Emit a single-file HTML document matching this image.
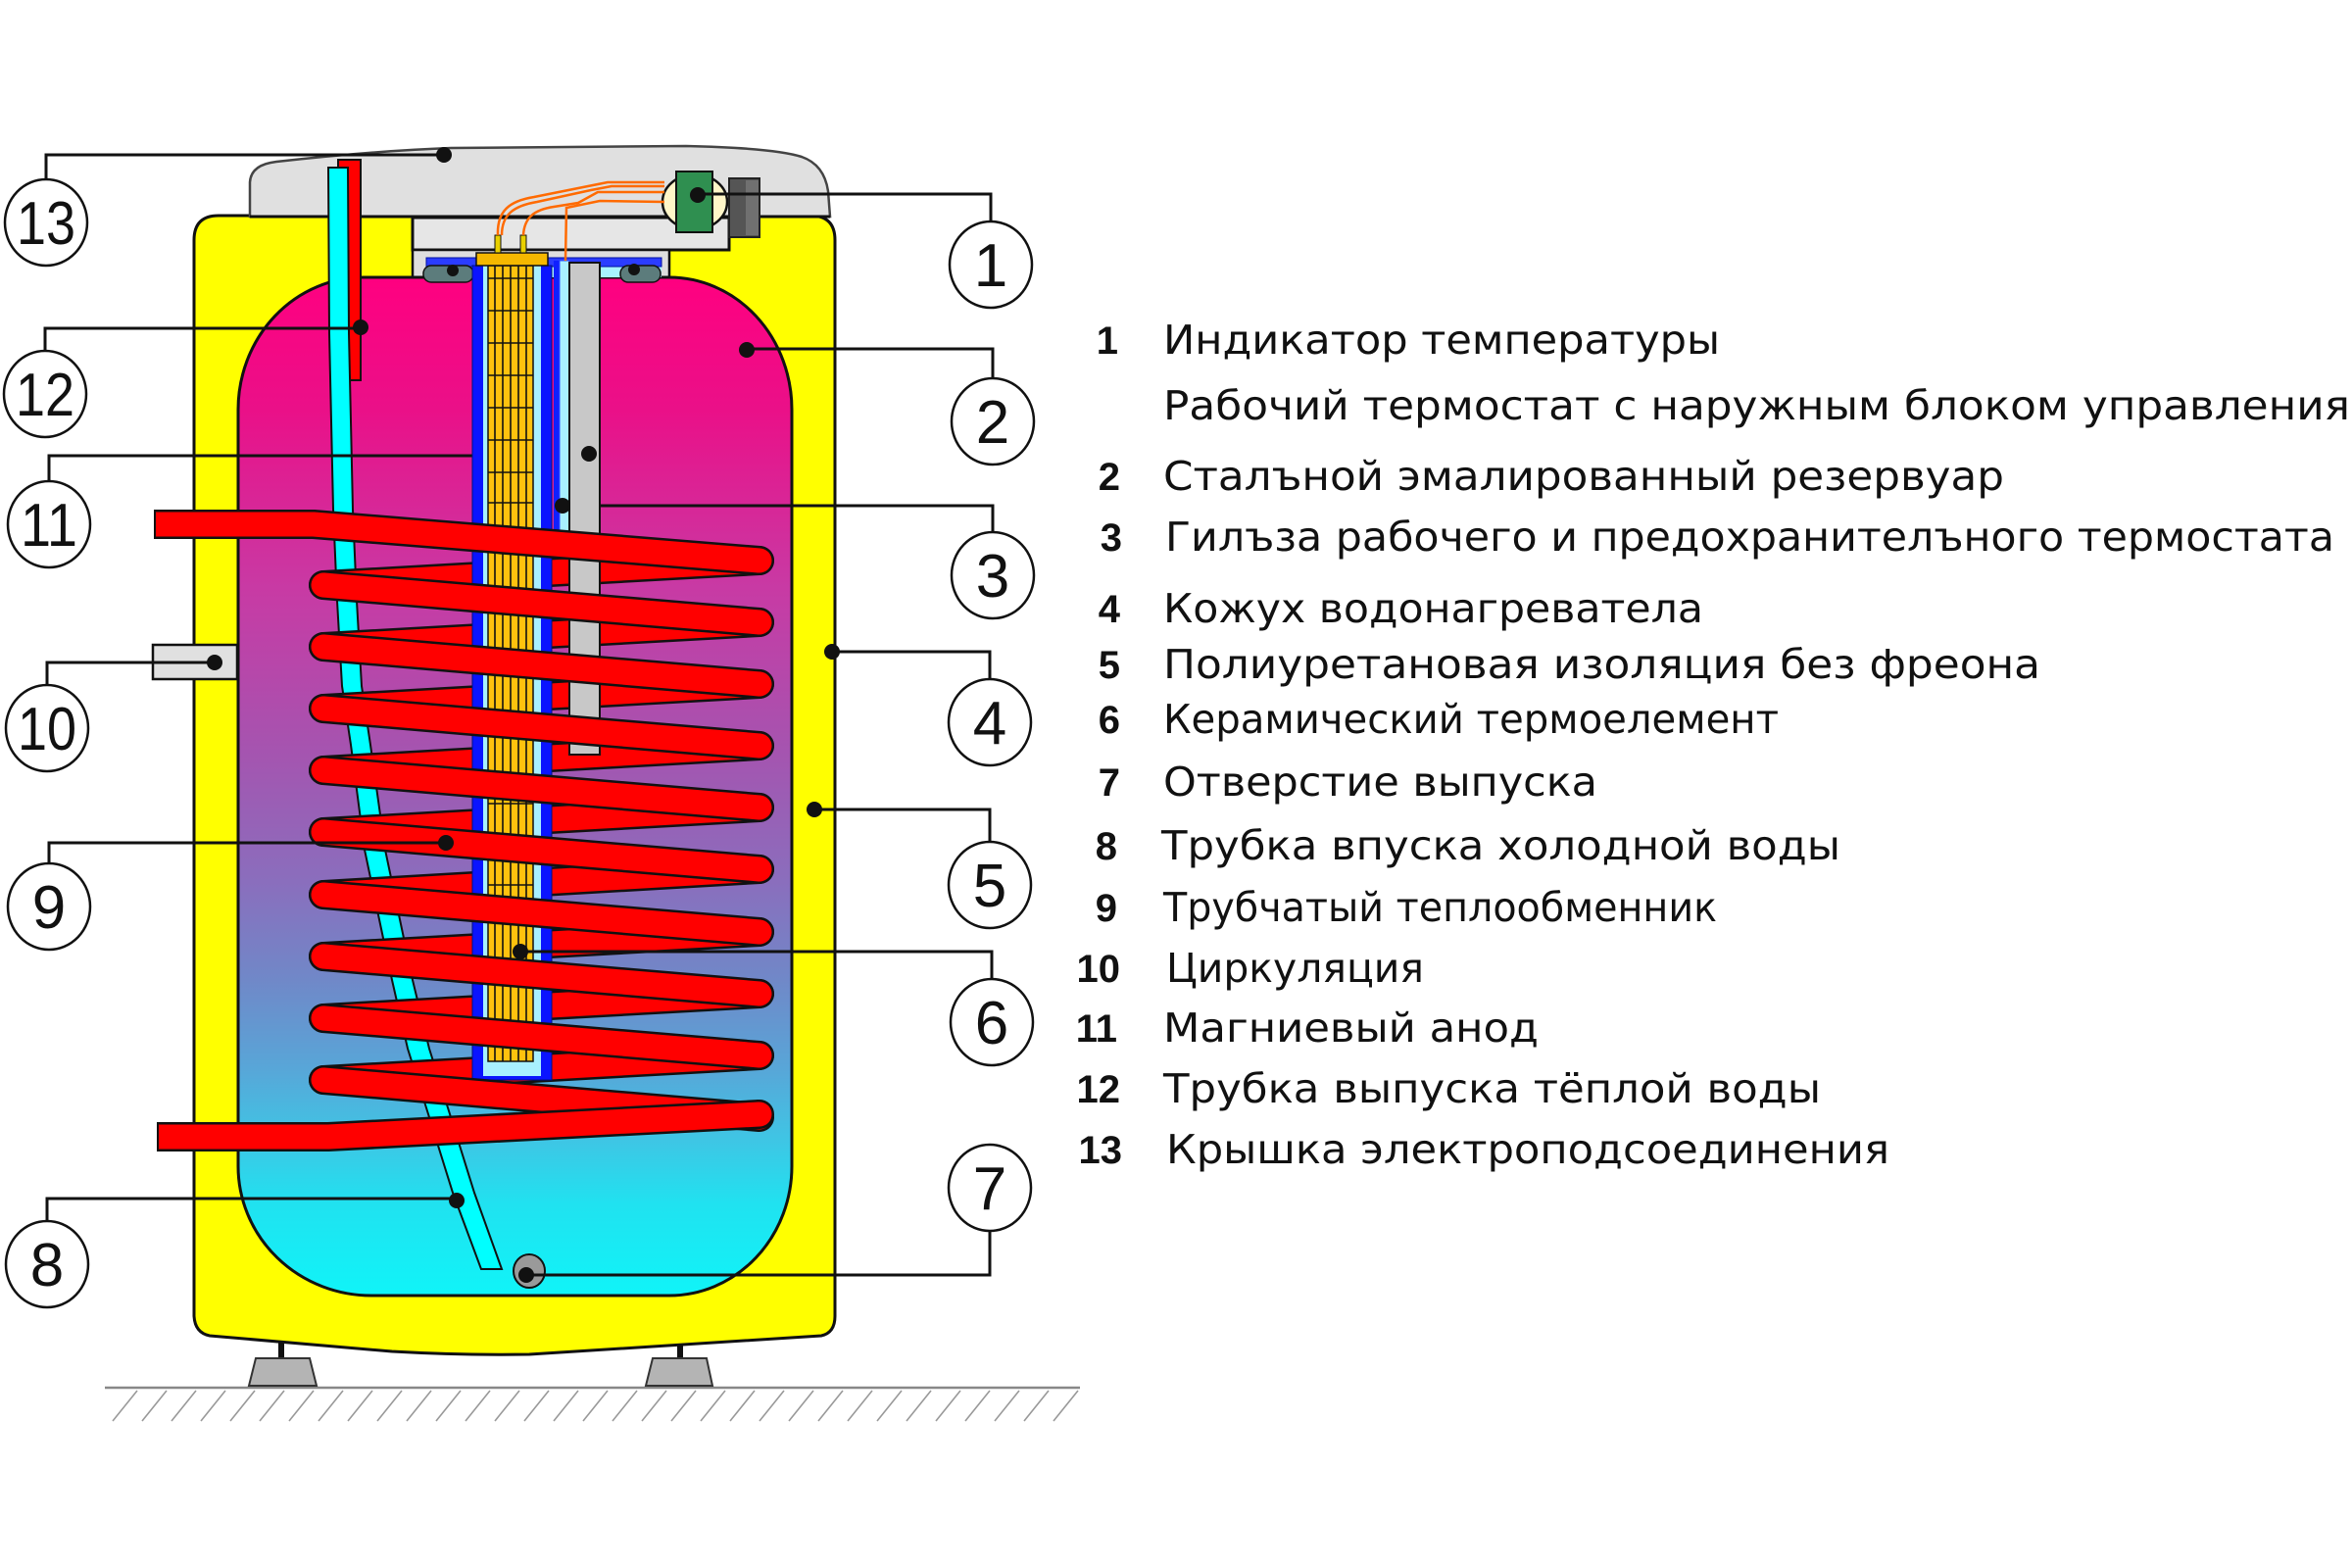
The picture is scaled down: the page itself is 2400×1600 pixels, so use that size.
<!DOCTYPE html>
<html>
<head>
<meta charset="utf-8">
<style>
  html,body{margin:0;padding:0;background:#fff;}
  body{width:2400px;height:1600px;overflow:hidden;}
  svg{display:block;}
  .lbl{font-family:"DejaVu Sans","Liberation Sans",sans-serif;font-size:41px;fill:#111;}
  .num{font-family:"Liberation Sans",Arial,sans-serif;font-weight:bold;font-size:40px;fill:#111;}
  .cn{font-family:"Liberation Sans",Arial,sans-serif;font-size:62px;fill:#111;}
</style>
</head>
<body>
<svg width="2400" height="1600" viewBox="0 0 2400 1600" xmlns="http://www.w3.org/2000/svg">
  <defs>
    <linearGradient id="water" gradientUnits="userSpaceOnUse" x1="0" y1="283" x2="0" y2="1322">
      <stop offset="0" stop-color="#ff0080"/>
      <stop offset="0.13" stop-color="#ea1088"/>
      <stop offset="0.305" stop-color="#c83aa4"/>
      <stop offset="0.47" stop-color="#a455b0"/>
      <stop offset="0.594" stop-color="#8a6ebd"/>
      <stop offset="0.69" stop-color="#7088c8"/>
      <stop offset="0.777" stop-color="#58a6d8"/>
      <stop offset="0.844" stop-color="#40c4e4"/>
      <stop offset="0.911" stop-color="#20e2f0"/>
      <stop offset="1" stop-color="#10f4f8"/>
    </linearGradient>
  </defs>

  <rect x="0" y="0" width="2400" height="1600" fill="#fff"/>

  <!-- ground -->
  <line x1="107" y1="1416" x2="1102" y2="1416" stroke="#888" stroke-width="2.5"/>
  <g stroke="#999" stroke-width="1.6">
    <line x1="140" y1="1419" x2="115" y2="1450"/>
    <line x1="170" y1="1419" x2="145" y2="1450"/>
    <line x1="200" y1="1419" x2="175" y2="1450"/>
    <line x1="230" y1="1419" x2="205" y2="1450"/>
    <line x1="260" y1="1419" x2="235" y2="1450"/>
    <line x1="290" y1="1419" x2="265" y2="1450"/>
    <line x1="320" y1="1419" x2="295" y2="1450"/>
    <line x1="350" y1="1419" x2="325" y2="1450"/>
    <line x1="380" y1="1419" x2="355" y2="1450"/>
    <line x1="410" y1="1419" x2="385" y2="1450"/>
    <line x1="440" y1="1419" x2="415" y2="1450"/>
    <line x1="470" y1="1419" x2="445" y2="1450"/>
    <line x1="500" y1="1419" x2="475" y2="1450"/>
    <line x1="530" y1="1419" x2="505" y2="1450"/>
    <line x1="560" y1="1419" x2="535" y2="1450"/>
    <line x1="590" y1="1419" x2="565" y2="1450"/>
    <line x1="620" y1="1419" x2="595" y2="1450"/>
    <line x1="650" y1="1419" x2="625" y2="1450"/>
    <line x1="680" y1="1419" x2="655" y2="1450"/>
    <line x1="710" y1="1419" x2="685" y2="1450"/>
    <line x1="740" y1="1419" x2="715" y2="1450"/>
    <line x1="770" y1="1419" x2="745" y2="1450"/>
    <line x1="800" y1="1419" x2="775" y2="1450"/>
    <line x1="830" y1="1419" x2="805" y2="1450"/>
    <line x1="860" y1="1419" x2="835" y2="1450"/>
    <line x1="890" y1="1419" x2="865" y2="1450"/>
    <line x1="920" y1="1419" x2="895" y2="1450"/>
    <line x1="950" y1="1419" x2="925" y2="1450"/>
    <line x1="980" y1="1419" x2="955" y2="1450"/>
    <line x1="1010" y1="1419" x2="985" y2="1450"/>
    <line x1="1040" y1="1419" x2="1015" y2="1450"/>
    <line x1="1070" y1="1419" x2="1045" y2="1450"/>
    <line x1="1100" y1="1419" x2="1075" y2="1450"/>
  </g>

  <!-- feet -->
  <rect x="284" y="1358" width="6" height="30" fill="#111"/>
  <rect x="691" y="1362" width="6" height="26" fill="#111"/>
  <polygon points="261,1386 316,1386 323,1414 254,1414" fill="#b4b4b4" stroke="#333" stroke-width="2"/>
  <polygon points="666,1386 721,1386 727,1414 659,1414" fill="#b4b4b4" stroke="#333" stroke-width="2"/>

  <!-- yellow body -->
  <path d="M198,245 Q198,220 223,220 L827,220 Q852,220 852,245 L852,1343 Q852,1360 838,1363 L540,1382 Q470,1383 400,1379 L214,1363 Q199,1360 198,1343 Z" fill="#ffff00" stroke="#111" stroke-width="3"/>

  <!-- grey cover -->
  <path d="M255,221 L255,186 Q256,168 282,165 Q380,154 460,151 L700,149 Q790,151 818,160 Q841,168 845,195 L847,221 Z" fill="#e0e0e0" stroke="#444" stroke-width="2.5"/>
  <line x1="255" y1="221" x2="847" y2="221" stroke="#111" stroke-width="3"/>

  <!-- inner box and flange area -->
  <rect x="421" y="222" width="323" height="33" fill="#e6e6e6" stroke="#111" stroke-width="3"/>
  <rect x="421" y="255" width="262" height="28" fill="#dedede" stroke="#111" stroke-width="2.5"/>

  <!-- thermostat -->
  <ellipse cx="709" cy="206" rx="33" ry="28" fill="#fff6c8" stroke="#111" stroke-width="2.5"/>
  <rect x="690" y="175" width="37" height="62" fill="#2f8f50" stroke="#111" stroke-width="2"/>
  <rect x="744" y="182" width="31" height="60" fill="#555" stroke="#222" stroke-width="2"/>
  <rect x="761" y="184" width="13" height="56" fill="#707070"/>

  <!-- tank -->
  <path d="M243,418 A128,135 0 0 1 371,283 L683,283 A125,135 0 0 1 808,418 L808,1190 A125,132 0 0 1 683,1322 L379,1322 A136,132 0 0 1 243,1190 Z" fill="url(#water)" stroke="#111" stroke-width="3"/>

  <!-- flange plate -->
  <rect x="435" y="272" width="240" height="11" fill="#a8f2ff"/>
  <rect x="435" y="263" width="240" height="9" fill="#2b3cff" stroke="#0010a0" stroke-width="1"/>
  <rect x="432" y="271" width="51" height="17" rx="8" fill="#5c7c7c" stroke="#111" stroke-width="1.5"/>
  <rect x="633" y="271" width="41" height="17" rx="8" fill="#5c7c7c" stroke="#111" stroke-width="1.5"/>
  <circle cx="462" cy="276" r="6" fill="#111"/>
  <circle cx="647" cy="275" r="6" fill="#111"/>

  <!-- hot water outlet pipe (12) -->
  <rect x="345" y="163" width="23" height="225" fill="#ff0000" stroke="#111" stroke-width="2"/>
  <!-- cold water inlet pipe (8) -->
  <polygon points="335,171 336,340 340,520 344,613 349,700 358,760 372,867 400,1000 416,1070 438,1140 462,1217 491,1295 512,1295 484,1217 460,1140 438,1070 421,1000 393,867 378,760 369,700 364,613 360,520 356,340 355,171" fill="#00ffff" stroke="#111" stroke-width="2"/>

  <!-- circulation fitting (10) -->
  <rect x="156" y="658" width="86" height="35" fill="#e0e0e0" stroke="#111" stroke-width="2.5"/>

  <!-- back coil segments -->
  <g fill="none" stroke-linecap="round">
    <g stroke="#111" stroke-width="30">
      <line x1="775" y1="572" x2="330" y2="597"/>
      <line x1="775" y1="635" x2="330" y2="660"/>
      <line x1="775" y1="698" x2="330" y2="723"/>
      <line x1="775" y1="761" x2="330" y2="786"/>
      <line x1="775" y1="824" x2="330" y2="849"/>
      <line x1="775" y1="887" x2="330" y2="913"/>
      <line x1="775" y1="951" x2="330" y2="976"/>
      <line x1="775" y1="1014" x2="330" y2="1039"/>
      <line x1="775" y1="1077" x2="330" y2="1102"/>
    </g>
    <g stroke="#ff0000" stroke-width="25">
      <line x1="775" y1="572" x2="330" y2="597"/>
      <line x1="775" y1="635" x2="330" y2="660"/>
      <line x1="775" y1="698" x2="330" y2="723"/>
      <line x1="775" y1="761" x2="330" y2="786"/>
      <line x1="775" y1="824" x2="330" y2="849"/>
      <line x1="775" y1="887" x2="330" y2="913"/>
      <line x1="775" y1="951" x2="330" y2="976"/>
      <line x1="775" y1="1014" x2="330" y2="1039"/>
      <line x1="775" y1="1077" x2="330" y2="1102"/>
    </g>
  </g>

  <!-- leader 11 line (behind element) -->
  <path d="M482,465 H50 V491" fill="none" stroke="#111" stroke-width="3"/>

  <!-- heating element (6) -->
  <rect x="482" y="271" width="81" height="831" fill="#0a14ff" stroke="#001080" stroke-width="1"/>
  <rect x="493" y="271" width="59" height="827" fill="#a8f0ff"/>
  <rect x="498" y="271" width="46" height="812" fill="#ffc20e" stroke="#111" stroke-width="1.5"/>
  <g stroke="#111" stroke-width="1.6">
    <line x1="505" y1="271" x2="505" y2="1083"/>
    <line x1="513" y1="271" x2="513" y2="1083"/>
    <line x1="521" y1="271" x2="521" y2="1083"/>
    <line x1="529" y1="271" x2="529" y2="1083"/>
    <line x1="537" y1="271" x2="537" y2="1083"/>
    <line x1="498" y1="284" x2="544" y2="284"/>
    <line x1="498" y1="317" x2="544" y2="317"/>
    <line x1="498" y1="350" x2="544" y2="350"/>
    <line x1="498" y1="383" x2="544" y2="383"/>
    <line x1="498" y1="416" x2="544" y2="416"/>
    <line x1="498" y1="449" x2="544" y2="449"/>
    <line x1="498" y1="482" x2="544" y2="482"/>
    <line x1="498" y1="513" x2="544" y2="513"/>
    <line x1="498" y1="820" x2="544" y2="820"/>
    <line x1="498" y1="903" x2="544" y2="903"/>
  </g>
  <!-- thermostat sheath (3) -->
  <rect x="565" y="266" width="6" height="279" fill="#1020ff"/>
  <rect x="571" y="266" width="10" height="279" fill="#a8f0ff" stroke="#3050ff" stroke-width="1"/>
  <!-- magnesium anode (11) -->
  <rect x="581" y="268" width="31" height="502" fill="#c8c8c8" stroke="#111" stroke-width="2"/>
  <!-- element head -->
  <rect x="486" y="258" width="73" height="13" fill="#f5b800" stroke="#111" stroke-width="1.5"/>
  <rect x="505" y="240" width="6" height="18" fill="#e8d000" stroke="#111" stroke-width="1"/>
  <rect x="531" y="240" width="6" height="18" fill="#e8d000" stroke="#111" stroke-width="1"/>

  <!-- wires -->
  <g fill="none" stroke="#ff6a00" stroke-width="2.5">
    <path d="M508,240 C507,215 520,205 545,201 L600,190 L620,186 L678,186"/>
    <path d="M512,240 C512,219 524,210 548,206 L603,194 L624,190 L678,190"/>
    <path d="M534,240 C535,222 545,214 565,211 L590,207 L610,196 L678,196"/>
    <path d="M577,266 L578,212 L612,205 L678,206"/>
  </g>

  <!-- front coil tubes -->
  <g fill="none" stroke-linejoin="round">
    <!-- inlet -->
    <path d="M157,535 L320,535 L775,572" stroke="#111" stroke-width="30"/>
    <circle cx="775" cy="572" r="15" fill="#111"/>
    <path d="M159,535 L320,535 L775,572" stroke="#ff0000" stroke-width="25"/>
    <circle cx="775" cy="572" r="12.5" fill="#ff0000"/>
  </g>
  <g fill="none" stroke-linecap="round">
    <line x1="330" y1="597" x2="775" y2="635" stroke="#111" stroke-width="30"/>
    <line x1="330" y1="597" x2="775" y2="635" stroke="#ff0000" stroke-width="25"/>
    <line x1="330" y1="660" x2="775" y2="698" stroke="#111" stroke-width="30"/>
    <line x1="330" y1="660" x2="775" y2="698" stroke="#ff0000" stroke-width="25"/>
    <line x1="330" y1="723" x2="775" y2="761" stroke="#111" stroke-width="30"/>
    <line x1="330" y1="723" x2="775" y2="761" stroke="#ff0000" stroke-width="25"/>
    <line x1="330" y1="786" x2="775" y2="824" stroke="#111" stroke-width="30"/>
    <line x1="330" y1="786" x2="775" y2="824" stroke="#ff0000" stroke-width="25"/>
    <line x1="330" y1="849" x2="775" y2="887" stroke="#111" stroke-width="30"/>
    <line x1="330" y1="849" x2="775" y2="887" stroke="#ff0000" stroke-width="25"/>
    <line x1="330" y1="913" x2="775" y2="951" stroke="#111" stroke-width="30"/>
    <line x1="330" y1="913" x2="775" y2="951" stroke="#ff0000" stroke-width="25"/>
    <line x1="330" y1="976" x2="775" y2="1014" stroke="#111" stroke-width="30"/>
    <line x1="330" y1="976" x2="775" y2="1014" stroke="#ff0000" stroke-width="25"/>
    <line x1="330" y1="1039" x2="775" y2="1077" stroke="#111" stroke-width="30"/>
    <line x1="330" y1="1039" x2="775" y2="1077" stroke="#ff0000" stroke-width="25"/>
    <line x1="330" y1="1102" x2="775" y2="1140" stroke="#111" stroke-width="30"/>
    <line x1="330" y1="1102" x2="775" y2="1140" stroke="#ff0000" stroke-width="25"/>
  </g>
  <g fill="none" stroke-linejoin="round">
    <!-- outlet -->
    <path d="M775,1137 L335,1160 L160,1160" stroke="#111" stroke-width="30"/>
    <circle cx="775" cy="1137" r="15" fill="#111"/>
    <path d="M775,1137 L335,1160 L162,1160" stroke="#ff0000" stroke-width="25"/>
    <circle cx="775" cy="1137" r="12.5" fill="#ff0000"/>
  </g>

  <!-- drain (7) -->
  <ellipse cx="540" cy="1297" rx="16" ry="17" fill="#9a9a9a" stroke="#111" stroke-width="2"/>

  <!-- leader lines -->
  <g fill="none" stroke="#111" stroke-width="3">
    <path d="M453,158 H47 V183"/>
    <path d="M368,335 H46 V358"/>
    <path d="M219,676 H48 V699"/>
    <path d="M455,860 H50 V881"/>
    <path d="M466,1223 H48 V1246"/>
    <path d="M712,198 H1011 V226"/>
    <path d="M762,356 H1013 V386"/>
    <path d="M612,516 H1013 V543"/>
    <path d="M849,665 H1010 V693"/>
    <path d="M831,826 H1010 V859"/>
    <path d="M531,971 H1012 V999"/>
    <path d="M537,1301 H1010 V1256"/>
  </g>
  <g fill="#111">
    <circle cx="453" cy="158" r="8"/>
    <circle cx="368" cy="334" r="8"/>
    <circle cx="601" cy="463" r="8"/>
    <circle cx="219" cy="676" r="8"/>
    <circle cx="455" cy="860" r="8"/>
    <circle cx="466" cy="1225" r="8"/>
    <circle cx="712" cy="199" r="8"/>
    <circle cx="762" cy="357" r="8"/>
    <circle cx="574" cy="516" r="8"/>
    <circle cx="849" cy="665" r="8"/>
    <circle cx="831" cy="826" r="8"/>
    <circle cx="531" cy="971" r="8"/>
    <circle cx="537" cy="1301" r="8"/>
  </g>

  <!-- number circles -->
  <g fill="#fff" stroke="#111" stroke-width="2.5">
    <ellipse cx="47" cy="227" rx="42" ry="44"/>
    <ellipse cx="46" cy="402" rx="42" ry="44"/>
    <ellipse cx="50" cy="535" rx="42" ry="44"/>
    <ellipse cx="48" cy="743" rx="42" ry="44"/>
    <ellipse cx="50" cy="925" rx="42" ry="44"/>
    <ellipse cx="48" cy="1290" rx="42" ry="44"/>
    <ellipse cx="1011" cy="270" rx="42" ry="44"/>
    <ellipse cx="1013" cy="430" rx="42" ry="44"/>
    <ellipse cx="1013" cy="587" rx="42" ry="44"/>
    <ellipse cx="1010" cy="737" rx="42" ry="44"/>
    <ellipse cx="1010" cy="903" rx="42" ry="44"/>
    <ellipse cx="1012" cy="1043" rx="42" ry="44"/>
    <ellipse cx="1010" cy="1212" rx="42" ry="44"/>
  </g>
  <g class="cn" text-anchor="middle">
    <text x="47" y="249" textLength="60" lengthAdjust="spacingAndGlyphs">13</text>
    <text x="46" y="424" textLength="60" lengthAdjust="spacingAndGlyphs">12</text>
    <text x="50" y="557" textLength="58" lengthAdjust="spacingAndGlyphs">11</text>
    <text x="48" y="765" textLength="60" lengthAdjust="spacingAndGlyphs">10</text>
    <text x="50" y="947">9</text>
    <text x="48" y="1312">8</text>
    <text x="1011" y="292">1</text>
    <text x="1013" y="452">2</text>
    <text x="1013" y="609">3</text>
    <text x="1010" y="759">4</text>
    <text x="1010" y="925">5</text>
    <text x="1012" y="1065">6</text>
    <text x="1010" y="1234">7</text>
  </g>

  <!-- legend numbers -->
  <g class="num" text-anchor="end">
    <text x="1141" y="361">1</text>
    <text x="1143" y="500">2</text>
    <text x="1145" y="562">3</text>
    <text x="1143" y="635">4</text>
    <text x="1143" y="692">5</text>
    <text x="1143" y="748">6</text>
    <text x="1143" y="812">7</text>
    <text x="1140" y="877">8</text>
    <text x="1140" y="940">9</text>
    <text x="1143" y="1002">10</text>
    <text x="1140" y="1063">11</text>
    <text x="1143" y="1125">12</text>
    <text x="1145" y="1187">13</text>
  </g>

  <!-- legend text -->
  <g class="lbl">
    <text x="1187" y="361" textLength="568" lengthAdjust="spacingAndGlyphs">Индикатор температуры</text>
    <text x="1187" y="428" textLength="1211" lengthAdjust="spacingAndGlyphs">Рабочий термостат с наружным блоком управления</text>
    <text x="1187" y="500" textLength="858" lengthAdjust="spacingAndGlyphs">Сталъной эмалированный резервуар</text>
    <text x="1189" y="562" textLength="1193" lengthAdjust="spacingAndGlyphs">Гилъза рабочего и предохранителъного термостата</text>
    <text x="1187" y="635" textLength="551" lengthAdjust="spacingAndGlyphs">Кожух водонагреватела</text>
    <text x="1187" y="692" textLength="895" lengthAdjust="spacingAndGlyphs">Полиуретановая изоляция без фреона</text>
    <text x="1187" y="748" textLength="628" lengthAdjust="spacingAndGlyphs">Керамический термоелемент</text>
    <text x="1187" y="812" textLength="443" lengthAdjust="spacingAndGlyphs">Отверстие выпуска</text>
    <text x="1185" y="877" textLength="693" lengthAdjust="spacingAndGlyphs">Трубка впуска холодной воды</text>
    <text x="1187" y="940" textLength="565" lengthAdjust="spacingAndGlyphs">Трубчатый теплообменник</text>
    <text x="1190" y="1002" textLength="263" lengthAdjust="spacingAndGlyphs">Циркуляция</text>
    <text x="1187" y="1063" textLength="383" lengthAdjust="spacingAndGlyphs">Магниевый анод</text>
    <text x="1187" y="1125" textLength="671" lengthAdjust="spacingAndGlyphs">Трубка выпуска тёплой воды</text>
    <text x="1190" y="1187" textLength="738" lengthAdjust="spacingAndGlyphs">Крышка электроподсоединения</text>
  </g>
</svg>
</body>
</html>
